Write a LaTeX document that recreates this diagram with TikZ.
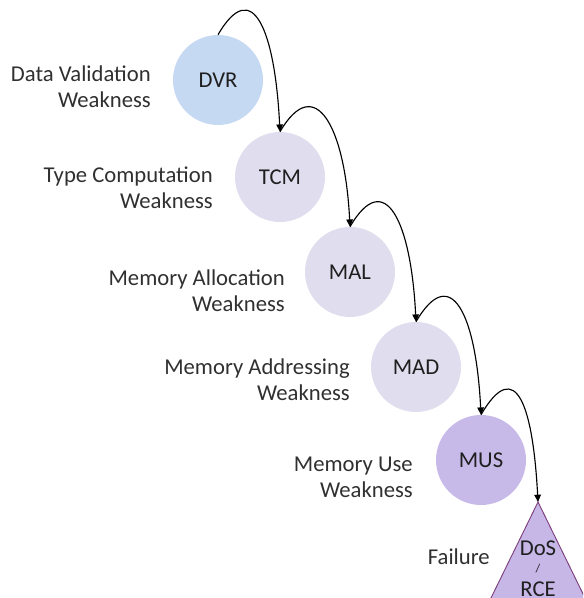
\documentclass[tikz,border=0pt]{standalone}
\usepackage{fontspec}
\setmainfont{Carlito}
\usetikzlibrary{arrows.meta}
\definecolor{dvrblue}{HTML}{C6D9F2}
\definecolor{lav}{HTML}{E0DDEE}
\definecolor{musp}{HTML}{C7B9E8}
\definecolor{trip}{HTML}{C6B7E7}
\definecolor{triborder}{HTML}{7E3F7E}
\definecolor{labelgray}{HTML}{303030}
\tikzset{
  circ/.style={circle, minimum size=67.5pt, inner sep=0pt, draw=none, font=\fontsize{17}{19.5}\selectfont, text=black!88},
  lbl/.style={anchor=east, align=right, inner sep=0pt, font=\fontsize{17}{19.5}\selectfont, text=labelgray},
  flow/.style={-{Triangle[length=5.5pt,width=5pt]}, line width=0.85pt, black},
  tritext/.style={inner sep=0pt, font=\fontsize{17}{19.5}\selectfont, text=black!88}
}
\begin{document}
\begin{tikzpicture}[x=0.75pt, y=-0.75pt]
\useasboundingbox (0,0) rectangle (583,598);
\clip (0,0) rectangle (583,598);
% circles
\node[circ, fill=dvrblue] (dvr) at (218,80) {DVR};
\node[circ, fill=lav] (tcm) at (280,177) {TCM};
\node[circ, fill=lav] (mal) at (350,272) {MAL};
\node[circ, fill=lav] (mad) at (416,367) {MAD};
\node[circ, fill=musp] (mus) at (481,460) {MUS};
% triangle
\coordinate (apex) at (538,502);
\coordinate (bl) at (440,702);
\coordinate (br) at (636,702);
\filldraw[fill=trip, draw=triborder, line width=0.7pt] (apex) -- (br) -- (bl) -- cycle;
\node[tritext] (dos) at (538,548) {DoS};
\node[tritext, font=\fontsize{9}{9}\selectfont] (slash) at (538,569) {/};
\node[tritext] (rce) at (538,589) {RCE};
% labels
\node[lbl] (ldvr) at (151,87) {Data Validation\\Weakness};
\node[lbl] (ltcm) at (213,188) {Type Computation\\Weakness};
\node[lbl] (lmal) at (285,291) {Memory Allocation\\Weakness};
\node[lbl] (lmad) at (350,380) {Memory Addressing\\Weakness};
\node[lbl] (lmus) at (413,477) {Memory Use\\Weakness};
\node[lbl] (lfail) at (490,557) {Failure};
% connectors
\draw[flow] (dvr.north) .. controls +(35,-60) and +(-5,-100) .. (tcm.north);
\draw[flow] (tcm.north) .. controls +(35,-60) and +(-5,-100) .. (mal.north);
\draw[flow] (mal.north) .. controls +(35,-60) and +(-5,-100) .. (mad.north);
\draw[flow] (mad.north) .. controls +(35,-60) and +(-5,-100) .. (mus.north);
\draw[flow] (mus.north) .. controls +(35,-60) and +(-5,-95) .. (apex);
\end{tikzpicture}
\end{document}
